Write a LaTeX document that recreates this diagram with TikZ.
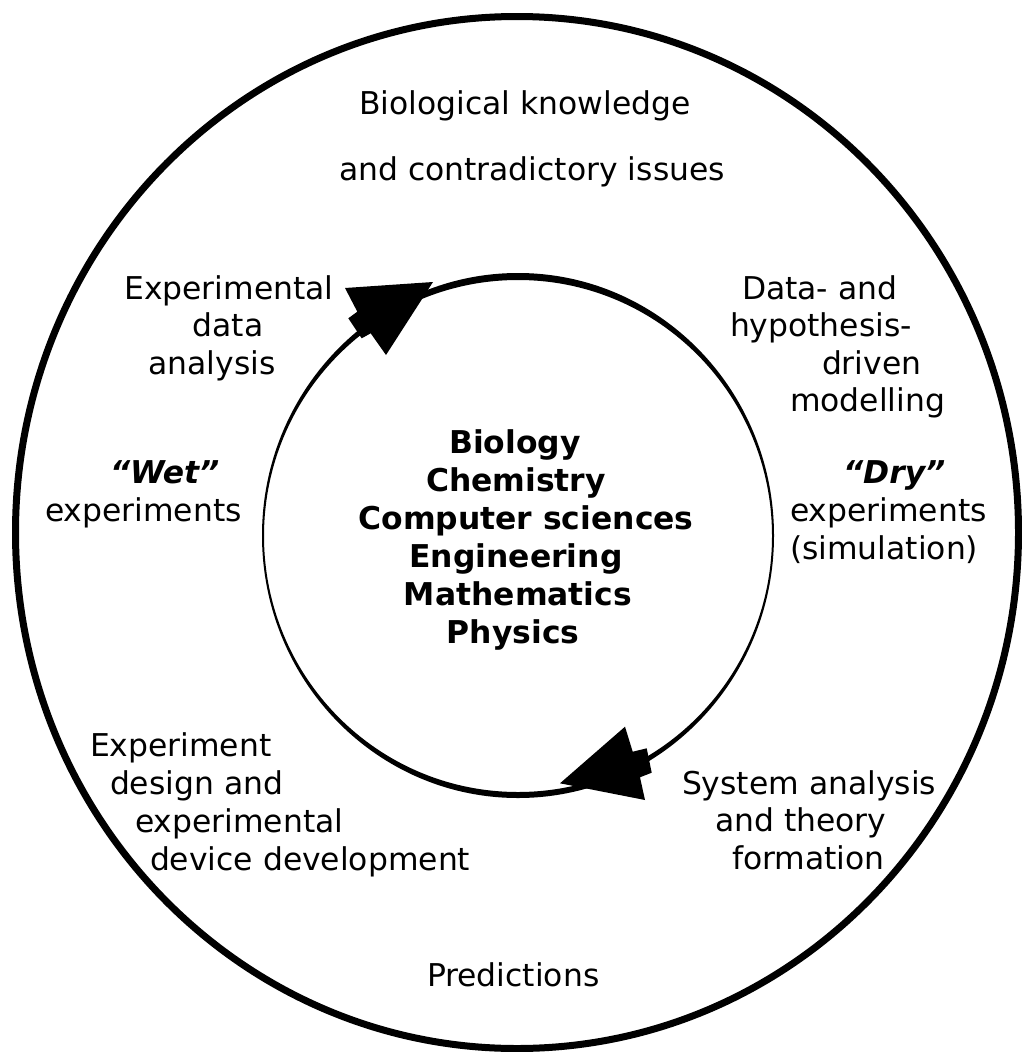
\documentclass[tikz,border=0pt]{standalone}
\usepackage{fontspec}
\setmainfont{DejaVu Sans}
\begin{document}
\begin{tikzpicture}[x=1pt,y=-1pt,
  lbl/.style={inner sep=0pt,outer sep=0pt,font=\fontsize{31.4}{37}\selectfont,anchor=base west},
  lblc/.style={lbl,anchor=base},
  bld/.style={lblc,font=\fontsize{31.4}{37}\selectfont\bfseries},
  arrowhead/.style={fill=black,draw=none}]
\useasboundingbox (0,0) rectangle (1022,1052);
% outer circle
\draw[line width=7pt] (517,532.5) ellipse [x radius=501.5, y radius=516];
% inner ring with varying thickness
\fill[even odd rule] (518,535.5) ellipse [x radius=256, y radius=262.5]
                     (518,536) ellipse [x radius=254, y radius=256];
% arrowheads
\fill[arrowhead] (345,288) -- (433,282) -- (386,355) -- (370.7,333.3) -- (361.7,338.3)
   -- (348.3,318.3) -- (357.3,311.7) -- cycle;
\fill[arrowhead] (625,726.7) -- (632.7,751.7) -- (646.7,748.3) -- (651.7,772.7)
   -- (640,777.3) -- (645,800) -- (560,783.3) -- cycle;
% texts
\node[lblc] (bk1) at (525,114) {Biological knowledge};
\node[lblc] (bk2) at (532,180) {and contradictory issues};
\node[lblc] (ea1) at (229,299) {Experimental};
\node[lblc] (ea2) at (228,336) {data};
\node[lblc] (ea3) at (212,374) {analysis};
\node[lbl] (dm1) at (742,299) {Data- and};
\node[lbl] (dm2) at (730,336) {hypothesis-};
\node[lbl] (dm3) at (822,374) {driven};
\node[lbl] (dm4) at (790,411) {modelling};
\node[lbl,font=\fontsize{31.4}{37}\selectfont\bfseries\itshape] (we1) at (110,483) {“Wet”};
\node[lbl] (we2) at (45,521) {experiments};
\node[lbl,font=\fontsize{31.4}{37}\selectfont\bfseries\itshape] (de1) at (843,483) {“Dry”};
\node[lbl] (de2) at (790,521) {experiments};
\node[lbl] (de3) at (790,559) {(simulation)};
\node[bld] (c1) at (515,453) {Biology};
\node[bld] (c2) at (516,491) {Chemistry};
\node[bld] (c3) at (526,529) {Computer sciences};
\node[bld] (c4) at (516,567) {Engineering};
\node[bld] (c5) at (518,605) {Mathematics};
\node[bld] (c6) at (513,643) {Physics};
\node[lbl] (ed1) at (90,756) {Experiment};
\node[lbl] (ed2) at (110,794) {design and};
\node[lbl] (ed3) at (135,832) {experimental};
\node[lbl] (ed4) at (150,870) {device development};
\node[lbl] (sa1) at (682,794) {System analysis};
\node[lbl] (sa2) at (715,831) {and theory};
\node[lbl] (sa3) at (732,869) {formation};
\node[lbl] (pr) at (427,986) {Predictions};
\end{tikzpicture}
\end{document}
